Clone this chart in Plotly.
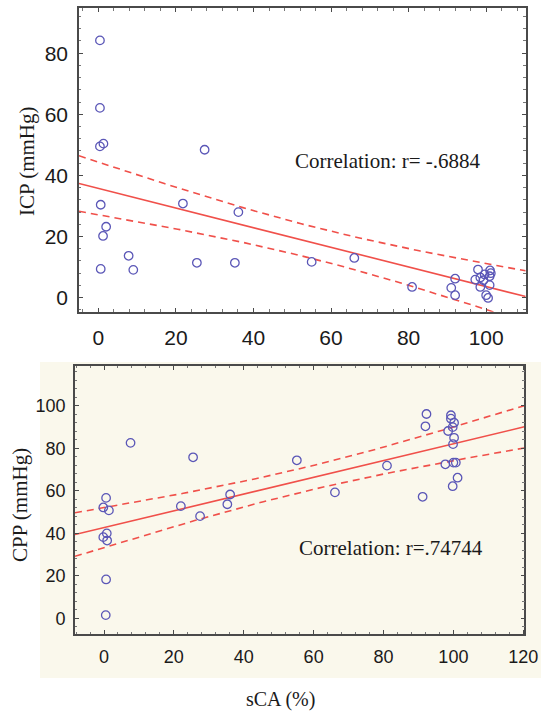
import numpy as np
import plotly.graph_objects as go

# ---------------- data ----------------
icp_sca = [0.4, 0.4, 0.4, 1.3, 27.4, 0.6, 21.8, 36.1, 2.0, 1.2, 7.8, 9.0, 0.6, 25.4, 35.2,
           55.0, 66.0, 80.9, 92.0, 91.0, 92.0,
           97.9, 97.2, 98.5, 98.5, 99.6, 101.0, 101.2, 100.9, 100.9, 100.0, 100.5, 99.3]
icp_val = [84.2, 62.1, 49.5, 50.4, 48.4, 30.4, 30.8, 28.0, 23.2, 20.2, 13.7, 9.1, 9.4, 11.4, 11.4,
           11.7, 13.0, 3.5, 6.2, 3.2, 0.8,
           9.2, 5.9, 6.6, 3.5, 7.6, 8.9, 8.0, 7.0, 4.1, 0.8, -0.1, 5.7]

cpp_sca = [0.5, 0.6, -0.2, 0.8, 0.9, 0.6, -0.2, 1.4, 7.6, 22.0, 25.5, 27.5, 35.3, 36.1,
           55.2, 66.1, 81.0, 91.2, 92.3, 92.0,
           97.7, 99.3, 99.3, 100.2, 98.5, 99.8, 100.2, 99.9, 100.0, 100.7, 101.2, 99.8]
cpp_val = [1.5, 18.3, 38.2, 40.0, 36.6, 56.7, 52.2, 50.8, 82.6, 52.8, 75.8, 48.1, 53.7, 58.3,
           74.4, 59.3, 71.9, 57.2, 96.2, 90.4,
           72.5, 95.6, 94.0, 92.1, 88.2, 90.0, 85.0, 82.0, 73.3, 73.3, 66.2, 62.2]

top_xticks = [0, 20, 40, 60, 80, 100]
top_yticks = [0, 20, 40, 60, 80]
bot_xticks = [0, 20, 40, 60, 80, 100, 120]
bot_yticks = [0, 20, 40, 60, 80, 100]

top_note = "Correlation: r= -.6884"
bot_note = "Correlation: r=.74744"
top_ytitle = "ICP (mmHg)"
bot_ytitle = "CPP (mmHg)"
xtitle = "sCA (%)"

T975 = 2.04  # Student t, 95% two-sided, ~30 df

W, H = 541, 712
TOP_X = [-5.0, 110.2]
TOP_Y = [-4.6, 94.7]
BOT_X = [-8.3, 120.3]
BOT_Y = [-7.4, 118.8]

MARK = "#5B57B7"
RED = "#F0504A"
FRAME = "#4a4a4a"


def fit_band(x, y, rng):
    x = np.asarray(x, float)
    y = np.asarray(y, float)
    n = len(x)
    b, a = np.polyfit(x, y, 1)
    res = y - (a + b * x)
    s = np.sqrt(np.sum(res ** 2) / (n - 2))
    xm = x.mean()
    sxx = np.sum((x - xm) ** 2)
    xs = np.linspace(rng[0], rng[1], 200)
    yh = a + b * xs
    h = T975 * s * np.sqrt(1.0 / n + (xs - xm) ** 2 / sxx)
    return xs, yh, yh + h, yh - h


fig = go.Figure()

for (xs_, ys_, rng, xa, ya) in [(icp_sca, icp_val, TOP_X, "x", "y"),
                                (cpp_sca, cpp_val, BOT_X, "x2", "y2")]:
    gx, gy, up, lo = fit_band(xs_, ys_, rng)
    fig.add_trace(go.Scatter(x=gx, y=gy, mode="lines", line=dict(color=RED, width=1.6),
                             xaxis=xa, yaxis=ya, showlegend=False, hoverinfo="skip"))
    for band in (up, lo):
        fig.add_trace(go.Scatter(x=gx, y=band, mode="lines",
                                 line=dict(color=RED, width=1.6, dash="7px,5px"),
                                 xaxis=xa, yaxis=ya, showlegend=False, hoverinfo="skip"))
    fig.add_trace(go.Scatter(x=xs_, y=ys_, mode="markers",
                             marker=dict(symbol="circle-open", size=8.5, color=MARK,
                                         line=dict(width=1.3, color=MARK)),
                             xaxis=xa, yaxis=ya, showlegend=False))


def px_x(p):
    return p / W


def px_y(p):
    return (H - p) / H


axis_common = dict(showline=True, linecolor=FRAME, linewidth=1.6, mirror="ticks",
                   ticks="inside", ticklen=4, tickwidth=1.2, tickcolor=FRAME,
                   showgrid=False, zeroline=False, fixedrange=True, automargin=False,
                   minor=dict(dtick=4, ticks="inside", ticklen=2.5, tickwidth=1, tickcolor="#777"))

fig.update_layout(
    template="none",
    width=W, height=H,
    margin=dict(l=0, r=0, t=0, b=0, pad=0, autoexpand=False),
    paper_bgcolor="white", plot_bgcolor="white",
    xaxis=dict(axis_common, domain=[px_x(79), px_x(525.7)], range=TOP_X, anchor="y",
               tickvals=top_xticks, ticklabelstandoff=6,
               tickfont=dict(family="Liberation Sans, Arial", size=21, color="#1a1a1a")),
    yaxis=dict(axis_common, domain=[px_y(311.7), px_y(8.3)], range=TOP_Y, anchor="x",
               tickvals=top_yticks, ticklabelstandoff=5,
               tickfont=dict(family="Liberation Sans, Arial", size=21, color="#1a1a1a")),
    xaxis2=dict(axis_common, domain=[px_x(75), px_x(524.3)], range=BOT_X, anchor="y2",
                tickvals=bot_xticks, ticklabelstandoff=6,
                tickfont=dict(family="Liberation Sans, Arial", size=18, color="#1a1a1a")),
    yaxis2=dict(axis_common, domain=[px_y(634), px_y(366)], range=BOT_Y, anchor="x2",
                tickvals=bot_yticks, ticklabelstandoff=4,
                tickfont=dict(family="Liberation Sans, Arial", size=18, color="#1a1a1a")),
    shapes=[dict(type="rect", xref="paper", yref="paper", layer="below",
                 x0=px_x(40), x1=1.0, y0=px_y(678), y1=px_y(362),
                 fillcolor="#FAF8EC", line=dict(width=0))],
)

serif = "Liberation Serif, Times New Roman, serif"
fig.add_annotation(xref="paper", yref="paper", x=px_x(293), y=px_y(161), text=top_note,
                   showarrow=False, xanchor="left", yanchor="middle",
                   font=dict(family=serif, size=21, color="#1a1a1a"))
fig.add_annotation(xref="paper", yref="paper", x=px_x(297), y=px_y(548), text=bot_note,
                   showarrow=False, xanchor="left", yanchor="middle",
                   font=dict(family=serif, size=21, color="#1a1a1a"))
fig.add_annotation(xref="paper", yref="paper", x=px_x(27), y=px_y(162), text=top_ytitle,
                   showarrow=False, textangle=-90, xanchor="center", yanchor="middle",
                   font=dict(family=serif, size=21, color="#1a1a1a"))
fig.add_annotation(xref="paper", yref="paper", x=px_x(20), y=px_y(505), text=bot_ytitle,
                   showarrow=False, textangle=-90, xanchor="center", yanchor="middle",
                   font=dict(family=serif, size=21, color="#1a1a1a"))
fig.add_annotation(xref="paper", yref="paper", x=px_x(280), y=px_y(699), text=xtitle,
                   showarrow=False, xanchor="center", yanchor="middle",
                   font=dict(family=serif, size=20, color="#1a1a1a"))

# remove the default 8px body margin so the 541x712 figure fills the window exactly
fig.write_html("out.html", config={"displayModeBar": False},
               post_script="document.body.style.margin='0';document.body.style.overflow='hidden';")
